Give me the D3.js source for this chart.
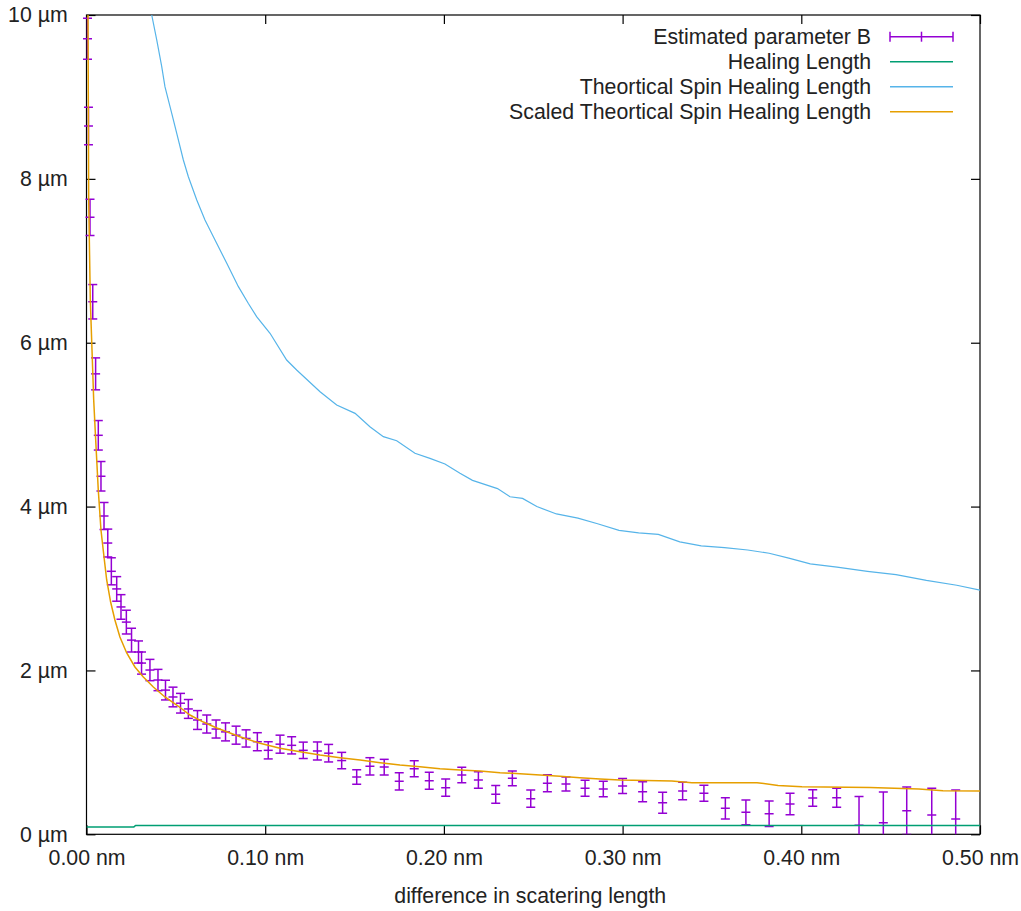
<!DOCTYPE html>
<html>
<head>
<meta charset="utf-8">
<script src="https://cdn.jsdelivr.net/npm/d3@7"></script>
<style>
  body { margin: 0; background: #fff; }
  svg { display: block; }
  text { font-family: "Liberation Sans", Arial, sans-serif; }
</style>
</head>
<body>
<svg id="chart" width="1021" height="911"></svg>
<script>
// Estimated parameter B: position (nm), value (µm), error half-width (µm)
const estX = [0.00056, 0.0011, 0.00196, 0.0035, 0.0051, 0.0066, 0.0081, 0.0098, 0.0119, 0.0139,
  0.0169, 0.0193, 0.0223, 0.0252, 0.0291, 0.0308, 0.0355, 0.0400, 0.0442, 0.0484,
  0.0526, 0.0570, 0.0621, 0.0673, 0.0725, 0.0778, 0.0837, 0.0893, 0.0956, 0.1017,
  0.1083, 0.1148, 0.1213, 0.1292, 0.1355, 0.1428, 0.1512, 0.1586, 0.1666, 0.1750,
  0.1834, 0.1918, 0.2010, 0.2100, 0.2193, 0.2290, 0.2383, 0.2486, 0.2579, 0.2683,
  0.2790, 0.2892, 0.3000, 0.3112, 0.3224, 0.3336, 0.3455, 0.3575, 0.3690, 0.3820,
  0.3937, 0.4064, 0.4198, 0.4323, 0.4459, 0.4590, 0.4730, 0.4864];
const estY = [9.71, 8.645, 7.53, 6.50, 5.62, 4.87, 4.37, 3.885, 3.555, 3.21,
  2.995, 2.775, 2.59, 2.37, 2.225, 2.09, 2.005, 1.883, 1.76, 1.676,
  1.60, 1.53, 1.395, 1.346, 1.285, 1.25, 1.21, 1.17, 1.13, 1.025,
  1.10, 1.086, 1.025, 1.017, 0.99, 0.90, 0.70, 0.83, 0.82, 0.647,
  0.80, 0.654, 0.569, 0.724, 0.663, 0.488, 0.683, 0.435, 0.622, 0.614,
  0.561, 0.553, 0.59, 0.52, 0.386, 0.528, 0.50, 0.317, 0.268, 0.25,
  0.37, 0.443, 0.447, 0.11, 0.142, 0.288, 0.236, 0.187];
const estErr = [0.25, 0.23, 0.22, 0.21, 0.195, 0.18, 0.18, 0.165, 0.17, 0.165,
  0.15, 0.15, 0.145, 0.145, 0.135, 0.135, 0.13, 0.13, 0.12, 0.12,
  0.12, 0.115, 0.115, 0.11, 0.11, 0.11, 0.11, 0.105, 0.11, 0.105,
  0.11, 0.105, 0.10, 0.11, 0.107, 0.10, 0.088, 0.105, 0.095, 0.105,
  0.098, 0.104, 0.106, 0.094, 0.10, 0.108, 0.09, 0.106, 0.104, 0.085,
  0.098, 0.094, 0.092, 0.122, 0.128, 0.106, 0.098, 0.13, 0.15, 0.155,
  0.132, 0.10, 0.116, 0.35, 0.374, 0.289, 0.325, 0.354];

// Healing length
const healX = [0.0, 0.0265, 0.0275, 0.5];
const healY = [0.09, 0.09, 0.108, 0.108];

// Theoretical spin healing length
const theoX = [0.0365, 0.0393, 0.0421, 0.0439, 0.0477, 0.0505, 0.0542, 0.0570, 0.0617, 0.0663,
  0.0710, 0.0785, 0.0850, 0.0905, 0.0952, 0.1027, 0.1120, 0.1176, 0.1307, 0.1400,
  0.1503, 0.1586, 0.1661, 0.1736, 0.1838, 0.1922, 0.2006, 0.2090,
  0.2160, 0.2300, 0.2370, 0.2440, 0.2520, 0.2630, 0.2750, 0.2860, 0.2980, 0.3090,
  0.3200, 0.3320, 0.3440, 0.3570, 0.3700, 0.3820, 0.3930, 0.4050, 0.4200, 0.4370,
  0.4530, 0.4700, 0.4870, 0.5000];
const theoY = [10.0, 9.695, 9.37, 9.125, 8.80, 8.556, 8.23, 8.026, 7.742, 7.498,
  7.294, 6.969, 6.684, 6.481, 6.318, 6.115, 5.789, 5.667, 5.402, 5.24,
  5.138, 4.975, 4.853, 4.804, 4.65, 4.589, 4.52, 4.406,
  4.32, 4.22, 4.12, 4.10, 4.00, 3.91, 3.86, 3.79, 3.71, 3.68,
  3.66, 3.57, 3.52, 3.50, 3.47, 3.43, 3.37, 3.30, 3.26, 3.21,
  3.17, 3.10, 3.04, 2.98];

// Scaled theoretical spin healing length
const scaledX = [0.00084, 0.00123, 0.00213, 0.00308, 0.00403, 0.00515, 0.0066, 0.0081, 0.0098, 0.0113,
  0.0135, 0.0159, 0.0187, 0.0225, 0.0271, 0.0318, 0.0374, 0.0439, 0.0505, 0.0579,
  0.0654, 0.0729, 0.0859, 0.0971, 0.1083, 0.1195, 0.1307, 0.1419, 0.1531, 0.1643,
  0.1754, 0.1866, 0.1978, 0.2090, 0.2202, 0.2314, 0.2426, 0.2538, 0.2650, 0.2761,
  0.2873, 0.2985, 0.3276, 0.3388, 0.3752, 0.3870, 0.4004, 0.4384, 0.4658, 0.4793, 0.5000];
const scaledY = [10.0, 7.742, 6.52, 5.91, 5.30, 4.81, 4.20, 3.714, 3.385, 3.104,
  2.835, 2.616, 2.408, 2.213, 2.042, 1.92, 1.798, 1.676, 1.578, 1.456,
  1.37, 1.297, 1.191, 1.111, 1.05, 1.008, 0.968, 0.935, 0.907, 0.874,
  0.846, 0.825, 0.80, 0.785, 0.773, 0.752, 0.74, 0.724, 0.708, 0.691,
  0.675, 0.663, 0.651, 0.63, 0.63, 0.596, 0.581, 0.571, 0.553, 0.532, 0.528];

const xTicks = [0, 0.1, 0.2, 0.3, 0.4, 0.5];
const yTicks = [0, 2, 4, 6, 8, 10];
const xTitle = "difference in scatering length";
const legendLabels = ["Estimated parameter B", "Healing Length",
  "Theortical Spin Healing Length", "Scaled Theortical Spin Healing Length"];
const colors = ["#9400d3", "#009e73", "#56b4e9", "#e69f00"];

const svg = d3.select("#chart");
const plotLeft = 86.5, plotRight = 980, plotTop = 15, plotBottom = 834.3;
const textColor = "#222";
const fontSize = 21.3;

const x = d3.scaleLinear().domain([0, 0.5]).range([plotLeft, plotRight]);
const y = d3.scaleLinear().domain([0, 10]).range([plotBottom, plotTop]);

svg.append("rect").attr("width", 1021).attr("height", 911).attr("fill", "#fff");

const defs = svg.append("defs");
defs.append("clipPath").attr("id", "plot-clip")
  .append("rect").attr("x", plotLeft).attr("y", plotTop)
  .attr("width", plotRight - plotLeft).attr("height", plotBottom - plotTop);
// error bars are only cut at the top and bottom edges
defs.append("clipPath").attr("id", "bar-clip")
  .append("rect").attr("x", 0).attr("y", plotTop)
  .attr("width", 1021).attr("height", plotBottom - plotTop);

// axes with inward ticks, mirrored on top and right
const tickLen = 9;
function styleAxis(g) {
  g.select(".domain").remove();
  g.selectAll(".tick line").attr("stroke", "#000").attr("stroke-width", 1.2);
  g.selectAll(".tick text").attr("fill", textColor)
    .style("font-size", fontSize + "px")
    .style("font-family", '"Liberation Sans", Arial, sans-serif');
}
svg.append("g").attr("transform", `translate(0,${plotBottom})`)
  .call(d3.axisBottom(x).tickValues(xTicks).tickSize(-tickLen).tickPadding(16)
    .tickFormat(d => d3.format(".2f")(d) + " nm"))
  .call(styleAxis);
svg.append("g").attr("transform", `translate(0,${plotTop})`)
  .call(d3.axisTop(x).tickValues(xTicks).tickSize(-tickLen).tickFormat(""))
  .call(styleAxis);
svg.append("g").attr("transform", `translate(${plotLeft},0)`)
  .call(d3.axisLeft(y).tickValues(yTicks).tickSize(-tickLen).tickPadding(18.8)
    .tickFormat(d => d + " µm"))
  .call(styleAxis);
svg.append("g").attr("transform", `translate(${plotRight},0)`)
  .call(d3.axisRight(y).tickValues(yTicks).tickSize(-tickLen).tickFormat(""))
  .call(styleAxis);

// axis title
svg.append("text").attr("x", (plotLeft + plotRight) / 2 - 3).attr("y", 896)
  .attr("dy", "0.35em").attr("text-anchor", "middle")
  .attr("fill", textColor).style("font-size", fontSize + "px").text(xTitle);

// border
svg.append("rect").attr("x", plotLeft).attr("y", plotTop)
  .attr("width", plotRight - plotLeft).attr("height", plotBottom - plotTop)
  .attr("fill", "none").attr("stroke", "#000").attr("stroke-width", 1.2);

// error bars
const capW = 4.5;
const est = estX.map((d, i) => ({ x: estX[i], y: estY[i], e: estErr[i] }));
const bars = svg.append("g").attr("clip-path", "url(#bar-clip)")
  .attr("stroke", colors[0]).attr("stroke-width", 1.5).attr("fill", "none");
est.forEach(d => {
  const cx = x(d.x), y0 = y(d.y - d.e), y1 = y(d.y + d.e), yc = y(d.y);
  bars.append("line").attr("x1", cx).attr("x2", cx).attr("y1", y0).attr("y2", y1);
  [y0, yc, y1].forEach(v => bars.append("line")
    .attr("x1", cx - capW).attr("x2", cx + capW).attr("y1", v).attr("y2", v));
});

// curves
const plot = svg.append("g").attr("clip-path", "url(#plot-clip)");
const line = d3.line().x(d => x(d[0])).y(d => y(d[1]));
const series = [
  { xs: healX, ys: healY, color: colors[1], w: 1.5 },
  { xs: theoX, ys: theoY, color: colors[2], w: 1.2 },
  { xs: scaledX, ys: scaledY, color: colors[3], w: 1.5 }
];
series.forEach(s => {
  plot.append("path").datum(s.xs.map((v, i) => [v, s.ys[i]]))
    .attr("d", line).attr("fill", "none")
    .attr("stroke", s.color).attr("stroke-width", s.w);
});

// legend
const legX0 = 890, legX1 = 953, legTextX = 871, legY0 = 36.7, legDy = 25;
legendLabels.forEach((lab, i) => {
  const ly = legY0 + i * legDy;
  svg.append("text").attr("x", legTextX).attr("y", ly).attr("dy", "0.35em")
    .attr("text-anchor", "end").attr("fill", textColor)
    .style("font-size", fontSize + "px").text(lab);
  const g = svg.append("g").attr("stroke", colors[i]).attr("stroke-width", 1.5);
  g.append("line").attr("x1", legX0).attr("x2", legX1).attr("y1", ly).attr("y2", ly);
  if (i === 0) {
    [legX0, (legX0 + legX1) / 2, legX1].forEach(v => g.append("line")
      .attr("x1", v).attr("x2", v).attr("y1", ly - 5).attr("y2", ly + 5));
  }
});
</script>
</body>
</html>
